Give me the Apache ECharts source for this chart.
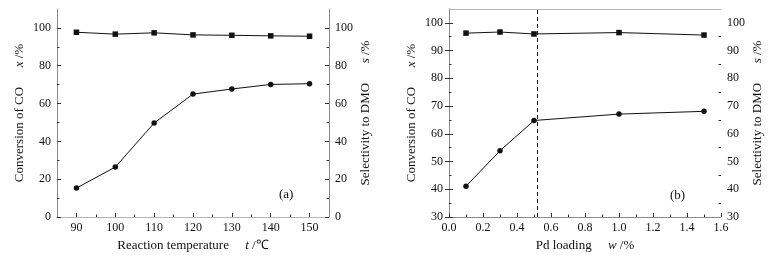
<!DOCTYPE html>
<html>
<head>
<meta charset="utf-8">
<script src="https://cdn.jsdelivr.net/npm/echarts@6/dist/echarts.min.js"></script>
<style>
html,body{margin:0;padding:0;background:#fff;}
#c{width:784px;height:269px;}
</style>
</head>
<body>
<div id="c"></div>
<script>
// ---- Data ----
const tempCategories = [90, 100, 110, 120, 130, 140, 150];
const tempConversion = [15.3, 26.4, 49.7, 65.0, 67.7, 70.1, 70.5];
const tempSelectivity = [97.7, 96.7, 97.4, 96.3, 96.1, 95.8, 95.6];

const pdLoading = [0.1, 0.3, 0.5, 1.0, 1.5];
const pdConversion = [41.1, 53.9, 64.8, 67.1, 68.1];
const pdSelectivity = [96.3, 96.7, 96.0, 96.5, 95.6];
const pdMarker = [0.52];

const tempXMajor = [90, 100, 110, 120, 130, 140, 150];
const tempXMinor = [95, 105, 115, 125, 135, 145];
const tempYMajor = [0, 20, 40, 60, 80, 100];
const tempYMinor = [10, 30, 50, 70, 90];
const pdXMajor = [0.0, 0.2, 0.4, 0.6, 0.8, 1.0, 1.2, 1.4, 1.6];
const pdXMinor = [0.1, 0.3, 0.5, 0.7, 0.9, 1.1, 1.3, 1.5];
const pdYMajor = [30, 40, 50, 60, 70, 80, 90, 100];
const pdYMinor = [35, 45, 55, 65, 75, 85, 95];

// ---- Styles ----
const FONT = '"Liberation Serif", "Times New Roman", serif';
const LINE_COLOR = '#8a8a8a';
const TICK_COLOR = '#333';
function mkRich() {
  return {
    n: {fontFamily: FONT, fontSize: 13, color: '#111'},
    i: {fontFamily: FONT, fontSize: 13, color: '#111', fontStyle: 'italic'}
  };
}
function nameStyle() {
  return {fontFamily: FONT, fontSize: 13, color: '#111', rich: mkRich()};
}

function xAxes(grid, min, max, major, minor, nameStr, fmt) {
  return [
    {
      type: 'value', gridIndex: grid, position: 'bottom', min: min, max: max,
      name: nameStr, nameLocation: 'middle', nameGap: 22,
      nameTextStyle: nameStyle(),
      axisLine: {show: true, lineStyle: {color: LINE_COLOR, width: 1}},
      axisTick: {show: true, inside: true, length: 4, customValues: major, lineStyle: {color: TICK_COLOR}},
      axisLabel: {show: true, margin: 5, customValues: major, fontFamily: FONT, fontSize: 12, color: '#111', formatter: fmt},
      splitLine: {show: false}
    },
    {
      type: 'value', gridIndex: grid, position: 'bottom', min: min, max: max,
      axisLine: {show: false},
      axisTick: {show: true, inside: true, length: 2.5, customValues: minor, lineStyle: {color: TICK_COLOR}},
      axisLabel: {show: false},
      splitLine: {show: false}
    },
    {
      type: 'value', gridIndex: grid, position: 'top', min: min, max: max,
      axisLine: {show: true, lineStyle: {color: '#b5b5b5', width: 1}},
      axisTick: {show: false}, axisLabel: {show: false}, splitLine: {show: false}
    }
  ];
}

function yAxes(grid, min, max, major, minor, leftName, rightName) {
  const mk = (pos, isMajor, nameStr) => ({
    type: 'value', gridIndex: grid, position: pos, min: min, max: max,
    name: nameStr || '', nameLocation: 'middle', nameRotate: 90,
    nameGap: pos === 'left' ? 31 : 30,
    nameTextStyle: nameStyle(),
    axisLine: {show: isMajor, lineStyle: {color: LINE_COLOR, width: 1}},
    axisTick: {show: true, inside: true, length: isMajor ? 4 : 2.5,
      customValues: isMajor ? major : minor, lineStyle: {color: TICK_COLOR}},
    axisLabel: isMajor ? {show: true, margin: 6, customValues: major, fontFamily: FONT, fontSize: 12, color: '#111'} : {show: false},
    splitLine: {show: false}
  });
  return [mk('left', true, leftName), mk('left', false), mk('right', true, rightName), mk('right', false)];
}

const grids = [
  {left: 57, top: 9, width: 272, height: 208},
  {left: 449, top: 9, width: 272, height: 208}
];

const xAxis = [].concat(
  xAxes(0, 85, 155, tempXMajor, tempXMinor, '{n|Reaction temperature}     {i|t} {n|/℃}', v => String(v)),
  xAxes(1, 0, 1.6, pdXMajor, pdXMinor, '{n|Pd loading}     {i|w} {n|/%}', v => v.toFixed(1))
);
const yAxis = [].concat(
  yAxes(0, 0, 110, tempYMajor, tempYMinor, '{n|Conversion of CO}      {i|x} {n|/%}', '{n|Selectivity to DMO}      {i|s} {n|/%}'),
  yAxes(1, 30, 105, pdYMajor, pdYMinor, '{n|Conversion of CO}      {i|x} {n|/%}', '{n|Selectivity to DMO}      {i|s} {n|/%}')
);

const lineBase = {
  type: 'line', lineStyle: {color: '#111', width: 1}, itemStyle: {color: '#111'},
  showSymbol: true, animation: false, z: 3
};

const series = [
  Object.assign({}, lineBase, {
    name: 'conv-a', xAxisIndex: 0, yAxisIndex: 0, symbol: 'circle', symbolSize: 5.5,
    data: tempCategories.map((t, i) => [t, tempConversion[i]])
  }),
  Object.assign({}, lineBase, {
    name: 'sel-a', xAxisIndex: 0, yAxisIndex: 2, symbol: 'rect', symbolSize: 5.5,
    data: tempCategories.map((t, i) => [t, tempSelectivity[i]])
  }),
  Object.assign({}, lineBase, {
    name: 'conv-b', xAxisIndex: 3, yAxisIndex: 4, symbol: 'circle', symbolSize: 5.5,
    data: pdLoading.map((w, i) => [w, pdConversion[i]]),
    markLine: {
      silent: true, symbol: ['none', 'none'], label: {show: false},
      lineStyle: {color: '#111', type: [4, 3], width: 1},
      data: pdMarker.map(v => ({xAxis: v}))
    }
  }),
  Object.assign({}, lineBase, {
    name: 'sel-b', xAxisIndex: 3, yAxisIndex: 6, symbol: 'rect', symbolSize: 5.5,
    data: pdLoading.map((w, i) => [w, pdSelectivity[i]])
  })
];

const chart = echarts.init(document.getElementById('c'), null, {renderer: 'canvas'});
chart.setOption({
  backgroundColor: '#fff',
  animation: false,
  title: [
    {text: '(a)', left: 279, top: 188, textStyle: {fontFamily: FONT, fontSize: 13, fontWeight: 'normal', color: '#111'}, padding: 0},
    {text: '(b)', left: 670, top: 189, textStyle: {fontFamily: FONT, fontSize: 13, fontWeight: 'normal', color: '#111'}, padding: 0}
  ],
  grid: grids,
  xAxis: xAxis,
  yAxis: yAxis,
  series: series
});
</script>
</body>
</html>
